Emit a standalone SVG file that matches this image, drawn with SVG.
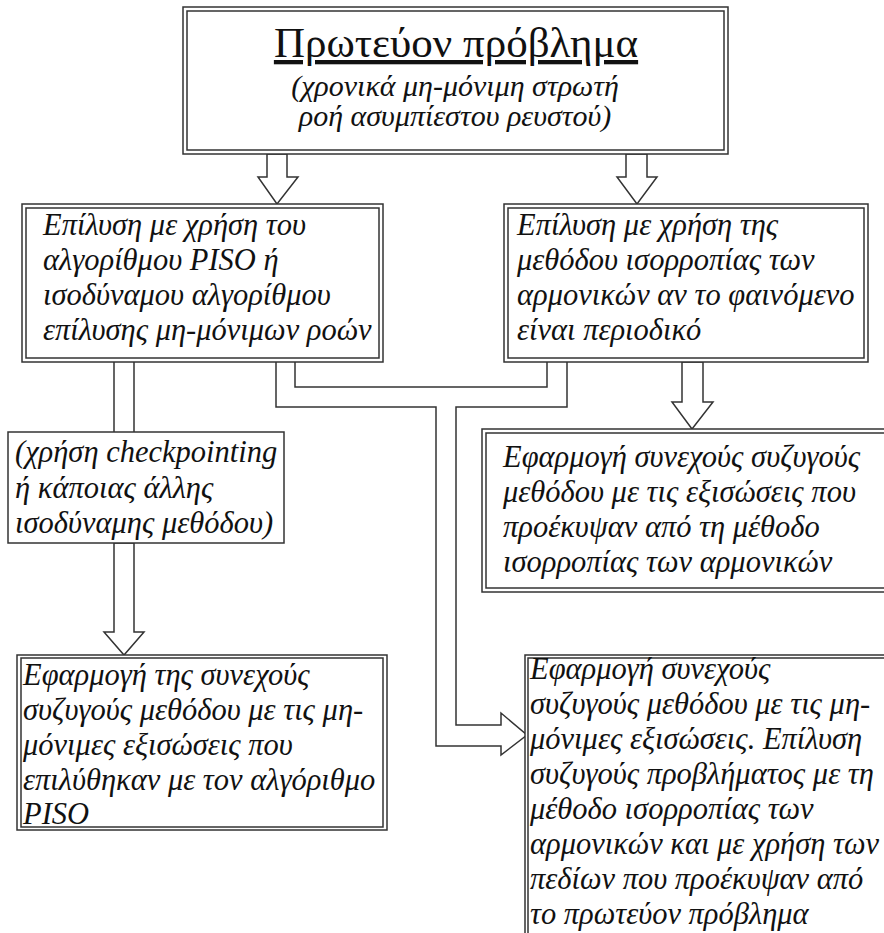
<svg xmlns="http://www.w3.org/2000/svg" width="884" height="933" viewBox="0 0 884 933">
<style>
.b{fill:#fff;stroke:#333;stroke-width:1.5}
.c{fill:none;stroke:#333;stroke-width:1.5}
.a{fill:#fff;stroke:#333;stroke-width:1.5;stroke-linejoin:miter}
text{font-family:'Liberation Serif','DejaVu Serif','Noto Serif',serif;fill:#111}
.t{font-style:italic;font-size:30.5px}
.h{font-size:43px;text-decoration:underline}
.s{font-style:italic;font-size:30px}
</style>
<rect width="884" height="933" fill="#fff"/>
<g id="connectors">
<polygon class="a" points="267,154 287,154 287,177 298,177 277,204 258,177 267,177"/>
<polygon class="a" points="626,154 647,154 647,177 657,177 637,204 617,177 626,177"/>
<polygon class="a" points="682,362 703,362 703,402 713,402 692,429 672,402 682,402"/>
<path class="c" d="M114,362 V432 M134,362 V432"/>
<polygon class="a" points="114,543 134,543 134,632 144,632 124,655 104,632 114,632"/>
<path class="c" d="M276,362 V407 H436 V746 H501 V755 L527,735 L501,713 V725 H456 V407 H567 V362"/>
<path class="c" d="M295,362 V387 H547 V362"/>
</g>
<g id="n1">
<rect class="b" x="183" y="7" width="545" height="147"/>
<rect class="c" x="187" y="11" width="537" height="139"/>
<text class="h" x="456" y="57" text-anchor="middle">Πρωτεύον πρόβλημα</text>
<text class="s" x="455" y="96" text-anchor="middle">(χρονικά μη-μόνιμη στρωτή</text>
<text class="s" x="455" y="126" text-anchor="middle">ροή ασυμπίεστου ρευστού)</text>
</g>
<g id="n2">
<rect class="b" x="22" y="204" width="361" height="158"/>
<rect class="c" x="26" y="208" width="353" height="150"/>
<text class="t" x="43" y="235">Επίλυση με χρήση του</text>
<text class="t" x="43" y="270">αλγορίθμου PISO ή</text>
<text class="t" x="43" y="305">ισοδύναμου αλγορίθμου</text>
<text class="t" x="43" y="340">επίλυσης μη-μόνιμων ροών</text>
</g>
<g id="n3">
<rect class="b" x="504" y="204" width="364" height="158"/>
<rect class="c" x="508" y="208" width="356" height="150"/>
<text class="t" x="517" y="235">Επίλυση με χρήση της</text>
<text class="t" x="517" y="270">μεθόδου ισορροπίας των</text>
<text class="t" x="517" y="305">αρμονικών αν το φαινόμενο</text>
<text class="t" x="517" y="340">είναι περιοδικό</text>
</g>
<g id="n4">
<rect class="b" x="8" y="432" width="276" height="111"/>
<text class="t" x="15" y="462">(χρήση checkpointing</text>
<text class="t" x="15" y="498">ή κάποιας άλλης</text>
<text class="t" x="15" y="533">ισοδύναμης μεθόδου)</text>
</g>
<g id="n5">
<rect class="b" x="482" y="429" width="410" height="163"/>
<rect class="c" x="486" y="433" width="402" height="155"/>
<text class="t" x="503" y="467">Εφαρμογή συνεχούς συζυγούς</text>
<text class="t" x="503" y="502">μεθόδου με τις εξισώσεις που</text>
<text class="t" x="503" y="537">προέκυψαν από τη μέθοδο</text>
<text class="t" x="503" y="572">ισορροπίας των αρμονικών</text>
</g>
<g id="n6">
<rect class="b" x="17" y="655" width="370" height="175"/>
<rect class="c" x="21" y="658" width="362" height="169"/>
<text class="t" x="23" y="685">Εφαρμογή της συνεχούς</text>
<text class="t" x="23" y="720">συζυγούς μεθόδου με τις μη-</text>
<text class="t" x="23" y="755">μόνιμες εξισώσεις που</text>
<text class="t" x="23" y="790">επιλύθηκαν με τον αλγόριθμο</text>
<text class="t" x="23" y="824">PISO</text>
</g>
<g id="n7">
<rect class="b" x="525" y="655" width="370" height="290"/>
<rect class="c" x="528" y="658" width="362" height="290"/>
<text class="t" x="530" y="679">Εφαρμογή συνεχούς</text>
<text class="t" x="530" y="714">συζυγούς μεθόδου με τις μη-</text>
<text class="t" x="530" y="749">μόνιμες εξισώσεις. Επίλυση</text>
<text class="t" x="530" y="784">συζυγούς προβλήματος με τη</text>
<text class="t" x="530" y="819">μέθοδο ισορροπίας των</text>
<text class="t" x="530" y="854">αρμονικών και με χρήση των</text>
<text class="t" x="530" y="889">πεδίων που προέκυψαν από</text>
<text class="t" x="530" y="924">το πρωτεύον πρόβλημα</text>
</g>
</svg>
